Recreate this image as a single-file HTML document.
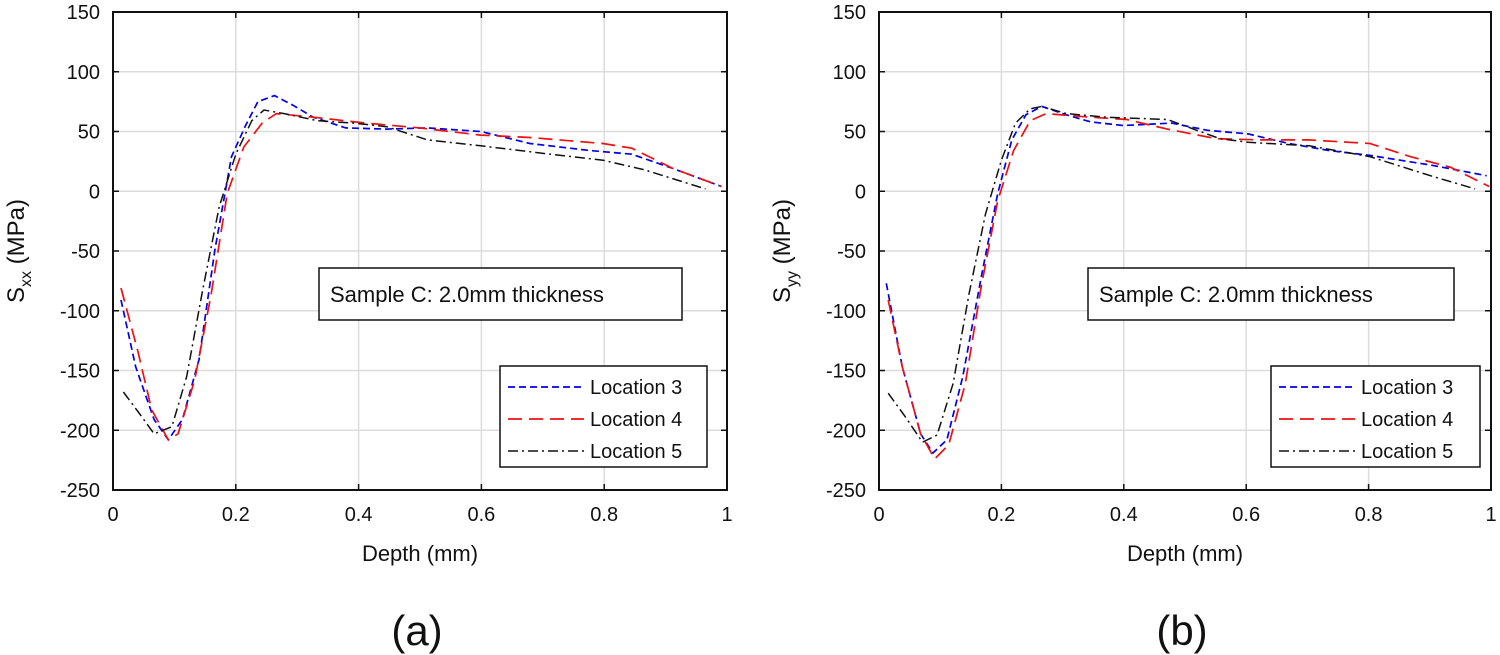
<!DOCTYPE html>
<html><head><meta charset="utf-8"><style>
html,body{margin:0;padding:0;background:#fff;}
svg{display:block;font-family:"Liberation Sans",Arial,sans-serif;}
</style></head><body>
<svg id="chart" width="1500" height="655" viewBox="0 0 1500 655"></svg>
<script>
const xTicks=[0,0.2,0.4,0.6,0.8,1];
const xTickLabels=["0","0.2","0.4","0.6","0.8","1"];
const yTicks=[150,100,50,0,-50,-100,-150,-200,-250];
const yTickLabels=["150","100","50","0","-50","-100","-150","-200","-250"];
const seriesNames=["Location 3","Location 4","Location 5"];
const aL3x=[0.013,0.037,0.067,0.09,0.113,0.14,0.166,0.193,0.216,0.236,0.263,0.293,0.326,0.379,0.446,0.512,0.599,0.679,0.778,0.845,0.912,0.991];
const aL3y=[-91,-147,-191,-208,-191,-141,-49,29,55,75,80,72,62,53,52,53,50,40,34,31,19,4];
const aL4x=[0.013,0.04,0.063,0.09,0.106,0.133,0.16,0.186,0.213,0.243,0.266,0.326,0.412,0.499,0.599,0.679,0.798,0.845,0.912,0.991];
const aL4y=[-81,-133,-183,-208,-203,-158,-86,-2,37,57,65,62,57,53,47,45,40,36,19,4];
const aL5x=[0.017,0.043,0.067,0.096,0.12,0.146,0.173,0.2,0.226,0.246,0.279,0.333,0.392,0.446,0.512,0.599,0.712,0.798,0.865,0.965];
const aL5y=[-168,-186,-203,-197,-155,-83,-13,31,59,68,65,59,57,54,43,38,31,26,18,2];
const bL3x=[0.012,0.038,0.068,0.088,0.111,0.137,0.167,0.194,0.217,0.24,0.266,0.306,0.346,0.399,0.478,0.537,0.603,0.67,0.736,0.802,0.901,0.993];
const bL3y=[-77,-147,-203,-219,-208,-155,-72,-2,43,64,71,64,58,55,57,51,48,40,34,30,22,13];
const bL4x=[0.015,0.038,0.068,0.091,0.114,0.141,0.167,0.194,0.22,0.247,0.273,0.346,0.405,0.471,0.551,0.623,0.703,0.802,0.868,0.934,0.997];
const bL4y=[-91,-147,-203,-224,-212,-161,-80,-8,34,59,65,62,60,52,44,43,43,40,29,20,4];
const bL5x=[0.015,0.042,0.071,0.095,0.121,0.147,0.174,0.2,0.223,0.247,0.266,0.306,0.372,0.471,0.557,0.603,0.703,0.802,0.901,0.974];
const bL5y=[-169,-188,-210,-204,-161,-86,-19,26,57,69,71,65,62,60,44,41,38,29,13,2];

const NS="http://www.w3.org/2000/svg";
const svg=document.getElementById('chart');
function mk(tag,attrs,parent){const e=document.createElementNS(NS,tag);for(const k in attrs)e.setAttribute(k,attrs[k]);(parent||svg).appendChild(e);return e;}
const styles=[{stroke:"#0000ee",dash:"7,4",w:1.7},{stroke:"#ee1111",dash:"14,7",w:1.7},{stroke:"#111",dash:"10,4,2,4",w:1.5}];

function panel(cfg){
  const g=mk('g',{});
  
  
  const L=cfg.left,R=cfg.right,T=12,B=490;
  const xs=v=>L+(v-0)/(1-0)*(R-L);
  const ys=v=>T+(150-v)/400*(B-T);
  xTicks.forEach((t,i)=>{
    const l=mk('line',{x1:xs(t),x2:xs(t),y1:T,y2:B,stroke:"#dcdcdc","stroke-width":1.5},g);
    
    
    const tx=mk('text',{x:xs(t),y:B+31,"font-size":20,"text-anchor":"middle",fill:"#111"},g);
    
    
    tx.textContent=xTickLabels[i];
  });
  yTicks.forEach((t,i)=>{
    const l=mk('line',{x1:L,x2:R,y1:ys(t),y2:ys(t),stroke:"#dcdcdc","stroke-width":1.5},g);
    
    
    mk('line',{x1:L,x2:L+6,y1:ys(t),y2:ys(t),stroke:"#111","stroke-width":1.5},g);
    mk('line',{x1:R-6,x2:R,y1:ys(t),y2:ys(t),stroke:"#111","stroke-width":1.5},g);
    const tx=mk('text',{x:L-13,y:ys(t)+7,"font-size":20,"text-anchor":"end",fill:"#111"},g);
    
    
    tx.textContent=yTickLabels[i];
  });
  xTicks.forEach(t=>{
    mk('line',{x1:xs(t),x2:xs(t),y1:B-6,y2:B,stroke:"#111","stroke-width":1.5},g);
    mk('line',{x1:xs(t),x2:xs(t),y1:T,y2:T+6,stroke:"#111","stroke-width":1.5},g);
  });
  cfg.series.forEach((s,i)=>{
    const pts=s[0].map((x,j)=>xs(x).toFixed(1)+","+ys(s[1][j]).toFixed(1)).join(" ");
    const p=mk('polyline',{points:pts,fill:"none",stroke:styles[i].stroke,"stroke-width":styles[i].w,"stroke-dasharray":styles[i].dash},g);
    
    
  });
  const box=mk('rect',{x:L,y:T,width:R-L,height:B-T,fill:"none",stroke:"#111","stroke-width":2},g);
  
  
  const xt=mk('text',{x:(L+R)/2,y:561,"font-size":22,"text-anchor":"middle",fill:"#111"},g);
  
  
  xt.textContent="Depth (mm)";
  const yt=mk('text',{transform:`translate(${cfg.ytx},251) rotate(-90)`,"font-size":24,"text-anchor":"middle",fill:"#111"},g);
  
  
  yt.innerHTML='S<tspan font-size="16" dy="7">'+cfg.sub+'</tspan><tspan dy="-7"> (MPa)</tspan>';
  const an=mk('rect',{x:cfg.ax,y:268,width:cfg.aw,height:52,fill:"#fff",stroke:"#111","stroke-width":1.5},g);
  
  
  const at=mk('text',{x:cfg.ax+11,y:302,"font-size":22,fill:"#111"},g);
  
  
  at.textContent="Sample C: 2.0mm thickness";
  const lg=mk('rect',{x:cfg.lx,y:366,width:cfg.lw,height:101,fill:"#fff",stroke:"#111","stroke-width":1.5},g);
  
  
  seriesNames.forEach((n,i)=>{
    const yy=387+i*32;
    const ll=mk('line',{x1:cfg.lx+8,x2:cfg.lx+84,y1:yy,y2:yy,stroke:styles[i].stroke,"stroke-width":styles[i].w,"stroke-dasharray":styles[i].dash},g);
    
    
    const lt=mk('text',{x:cfg.lx+90,y:yy+7,"font-size":20,fill:"#111"},g);
    
    
    lt.textContent=n;
  });
  const pl=mk('text',{x:(L+R)/2-3,y:645,"font-size":42,"text-anchor":"middle",fill:"#111"},g);
  
  
  pl.textContent=cfg.label;
}
panel({name:'panel-a',left:113,right:727,ytx:24,sub:'xx',ax:319,aw:363,lx:500,lw:207,label:'(a)',
  series:[[aL3x,aL3y],[aL4x,aL4y],[aL5x,aL5y]]});
panel({name:'panel-b',left:879,right:1491,ytx:790,sub:'yy',ax:1088,aw:366,lx:1271,lw:209,label:'(b)',
  series:[[bL3x,bL3y],[bL4x,bL4y],[bL5x,bL5y]]});
</script>
</body></html>
